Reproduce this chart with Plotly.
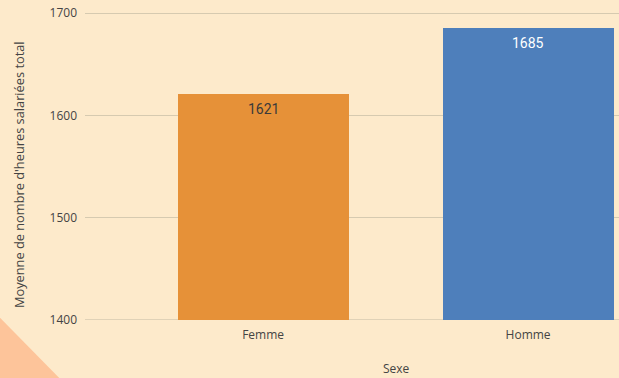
import plotly.graph_objects as go

categories = ["Femme", "Homme"]
values = [1621, 1685]
bar_colors = ["#e69138", "#4e7fbb"]
label_colors = ["#3a3a3a", "#ffffff"]
y_ticks = [1400, 1500, 1600, 1700]
x_title = "Sexe"
y_title = "Moyenne de nombre d'heures salariées total"

bg = "#fdeacb"
grid = "#d6cab0"

fig = go.Figure()
fig.add_trace(go.Bar(
    x=categories, y=values,
    marker=dict(color=bar_colors, line=dict(width=0)),
    width=0.645,
))

for c, v, col in zip(categories, values, label_colors):
    fig.add_annotation(x=c, y=v, text=str(v), showarrow=False,
                       yanchor="top", yshift=-5,
                       font=dict(family="Roboto", size=14, color=col))

# axis titles (placed as in the reference, whose plot extends past the right edge)
fig.add_annotation(text=y_title, textangle=-90, showarrow=False,
                   xref="paper", yref="paper", x=-0.1236, y=0.456,
                   xanchor="center", yanchor="middle",
                   font=dict(family="Open Sans", size=12.8, color="#444444"))
fig.add_annotation(text=x_title, showarrow=False,
                   xref="paper", yref="paper", x=0.583, y=-0.18,
                   xanchor="center", yanchor="bottom", borderpad=0,
                   font=dict(family="Open Sans", size=12, color="#444444"))

# decorative triangle in lower-left corner
fig.add_shape(type="path",
              path="M -0.17,0.025 L -0.043,-0.19 L -0.17,-0.19 Z",
              xref="paper", yref="paper",
              fillcolor="#fdc49a", line=dict(width=0), layer="below")

fig.update_layout(
    width=619, height=378,
    margin=dict(l=85, r=0, t=0, b=58),
    paper_bgcolor=bg, plot_bgcolor=bg,
    showlegend=False,
    bargap=0,
    font=dict(family="Open Sans", color="#444444", size=12),
    xaxis=dict(
        range=[-0.672, 1.343],
        showgrid=False, showline=False, ticks="",
        ticklabelstandoff=6,
        tickfont=dict(size=12),
    ),
    yaxis=dict(
        range=[1400, 1712.7],
        tickvals=y_ticks,
        showgrid=True, gridcolor=grid, gridwidth=1,
        zeroline=False, showline=False, ticks="",
        ticklabelstandoff=7,
        tickfont=dict(size=12),
    ),
)
fig.add_hline(y=1400, line=dict(color=grid, width=1.5), layer="below")

fig.write_html("out.html")
